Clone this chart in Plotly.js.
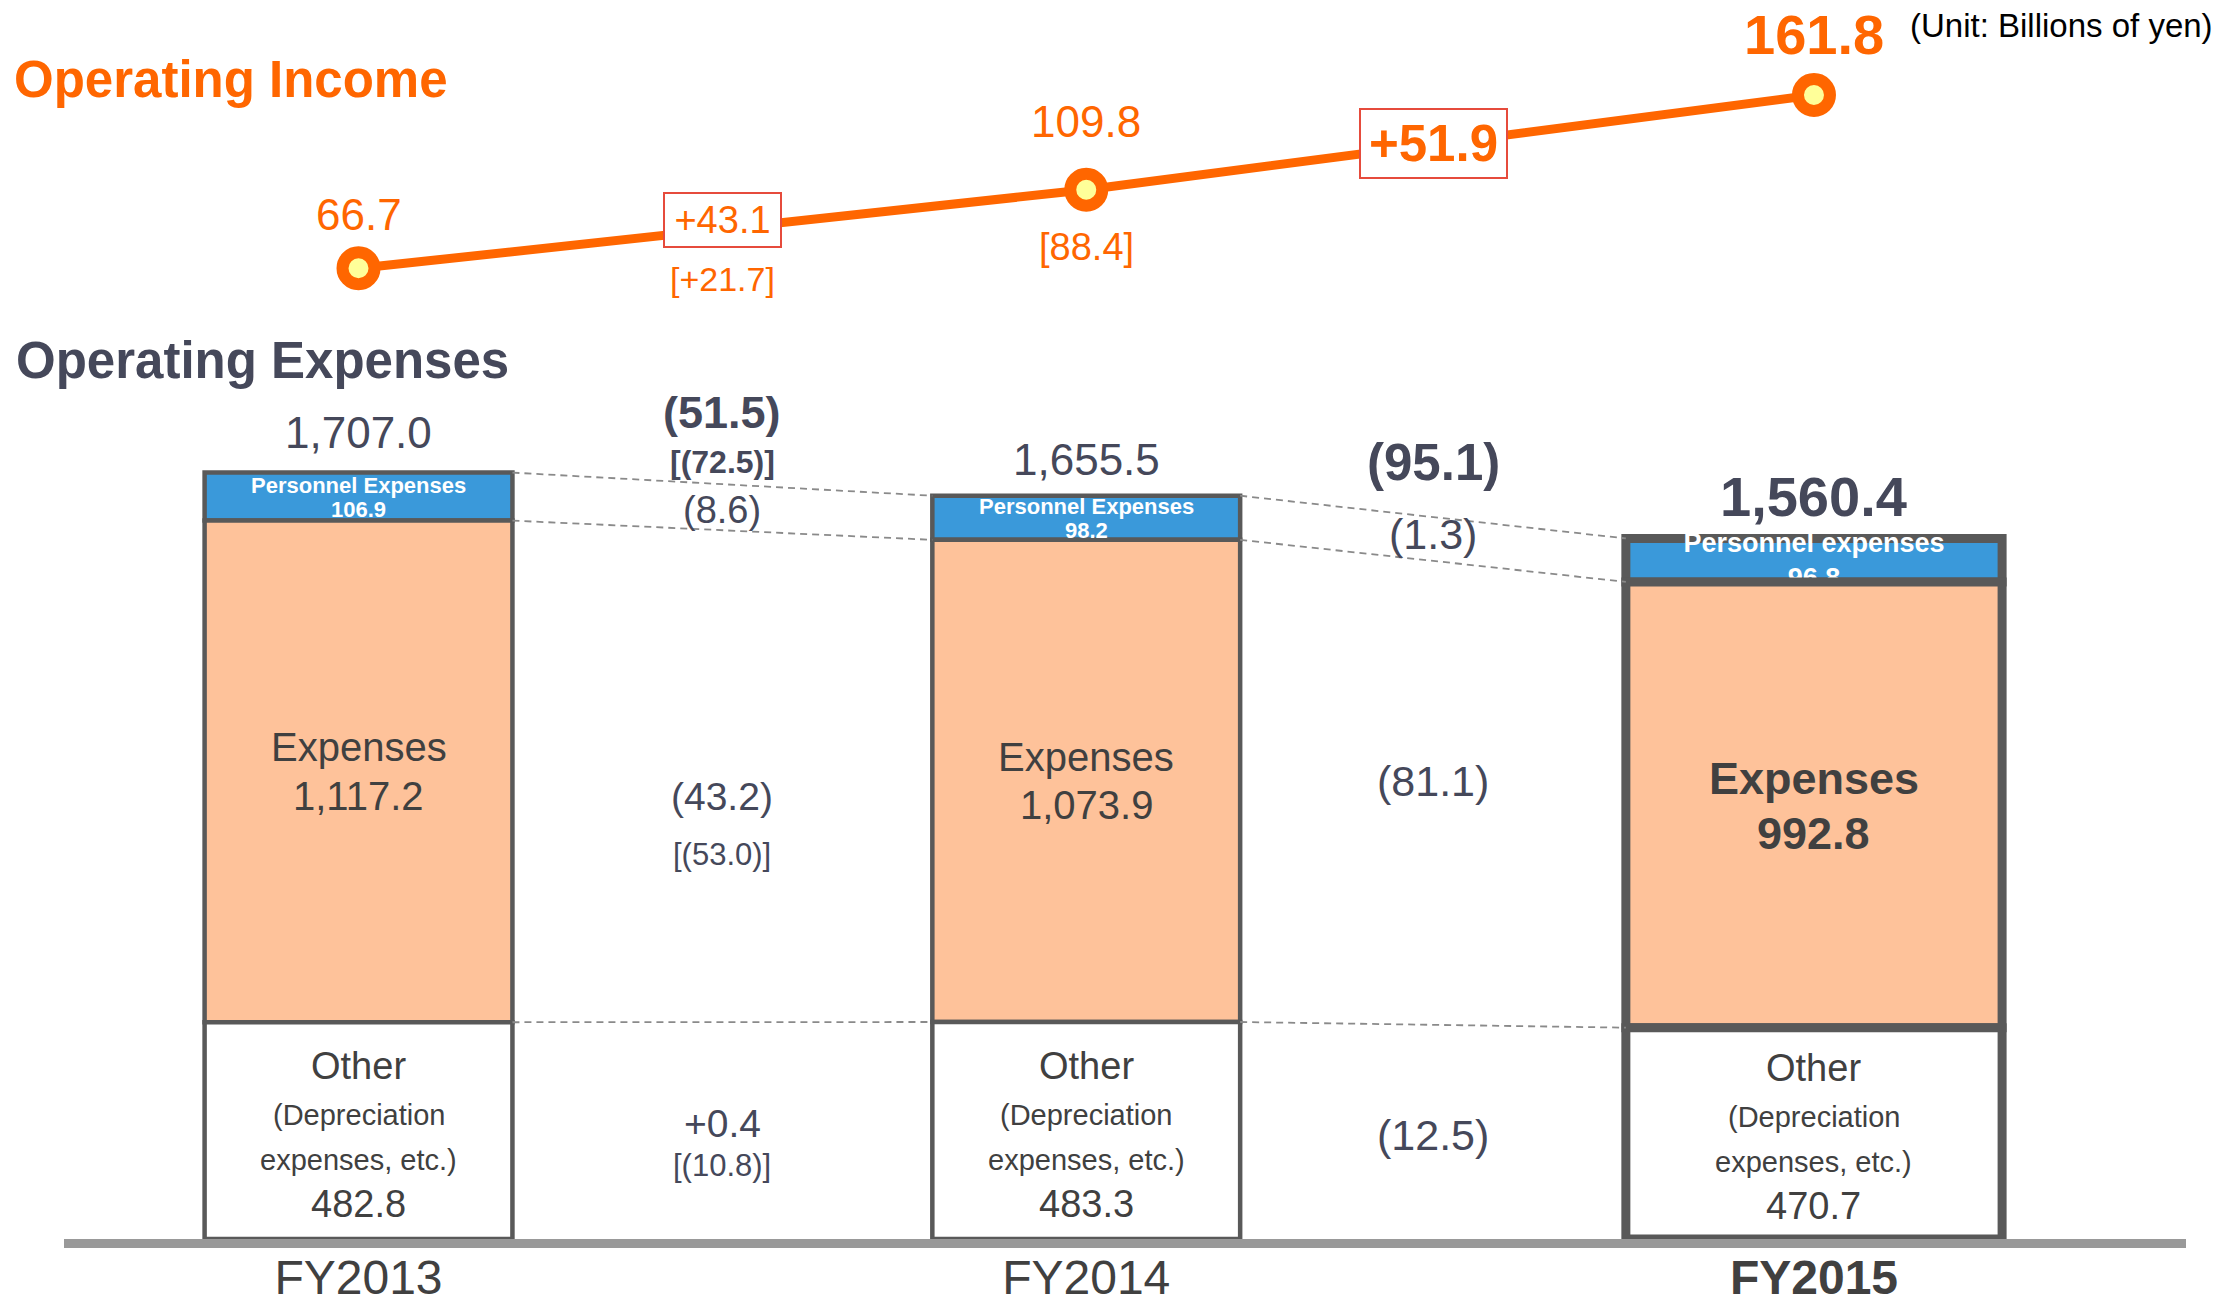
<!DOCTYPE html>
<html><head><meta charset="utf-8">
<script src="https://cdn.plot.ly/plotly-3.0.1.min.js"></script>
<style>html,body{margin:0;padding:0;background:#fff;} #chart{width:2221px;height:1306px;}</style>
</head><body><div id="chart"></div>
<script>
// ---- data ----
const categories = ['FY2013', 'FY2014', 'FY2015'];
const otherValues = [482.8, 483.3, 470.7];
const expenseValues = [1117.2, 1073.9, 992.8];
const personnelValues = [106.9, 98.2, 96.8];
const totalValues = [1707.0, 1655.5, 1560.4];
const incomeValues = [66.7, 109.8, 161.8];
const incomeNotes = ['', '[88.4]', ''];
const incomeChanges = [43.1, 51.9];
const incomeChangeNotes = ['[+21.7]', ''];
const totalChanges = [-51.5, -95.1];
const totalChangeNotes = ['[(72.5)]', ''];
const personnelChanges = [-8.6, -1.3];
const expenseChanges = [-43.2, -81.1];
const expenseChangeNotes = ['[(53.0)]', ''];
const otherChanges = [0.4, -12.5];
const otherChangeNotes = ['[(10.8)]', ''];
const personnelLabels = ['Personnel Expenses', 'Personnel Expenses', 'Personnel expenses'];
const expenseLabel = 'Expenses';
const otherLabels = ['Other', '(Depreciation', 'expenses, etc.)'];

// ---- style ----
const FONT = '"Liberation Sans", Arial, Helvetica, sans-serif';
const ORANGE = '#ff6600', SLATE = '#45485a', GRAY = '#404040', BORDER = '#595959';
const FOCUS = 2;
const barWidths = [0.423, 0.423, 0.517];
const borderWidths = [4.5, 4.5, 9];

// ---- derived ----
const xs = categories.map((c, i) => i);
const expTop = otherValues.map((o, i) => o + expenseValues[i]);
const persTop = expTop.map((e, i) => e + personnelValues[i]);
const gapX = [0, 1].map(i => ((xs[i] + barWidths[i] / 2) + (xs[i + 1] - barWidths[i + 1] / 2)) / 2);
const fmtChange = v => v < 0 ? '(' + Math.abs(v).toFixed(1) + ')' : '+' + v.toFixed(1);
const fmtNum = v => v.toLocaleString('en-US', {minimumFractionDigits: 1, maximumFractionDigits: 1});
const bold = (s, b) => b ? '<b>' + s + '</b>' : s;
const font = (size, color) => ({family: FONT, size: size, color: color});

const lineStyle = {color: BORDER, width: borderWidths};

// FY2015 personnel label is bar text so the expenses bar (drawn later) trims it like the original
const personnelTrace = {
  type: 'bar', x: xs, y: personnelValues, base: expTop, width: barWidths,
  marker: {color: '#3a99da', line: lineStyle},
  text: personnelValues.map((v, i) => i === FOCUS ? '<b>' + personnelLabels[i] + '</b><br><b>' + v.toFixed(1) + '</b>' : ''),
  textposition: 'inside', insidetextanchor: 'middle', constraintext: 'none', textangle: 0,
  insidetextfont: {family: FONT, size: 27, color: '#ffffff'},
  hoverinfo: 'skip', showlegend: false
};
const expenseTrace = {
  type: 'bar', x: xs, y: expenseValues, base: otherValues, width: barWidths,
  marker: {color: '#fec29a', line: lineStyle}, hoverinfo: 'skip', showlegend: false
};
const otherTrace = {
  type: 'bar', x: xs, y: otherValues, base: otherValues.map(() => 0), width: barWidths,
  marker: {color: '#ffffff', line: lineStyle}, hoverinfo: 'skip', showlegend: false
};

const dashX = [], dashY = [];
[persTop, expTop, otherValues].forEach(level => {
  for (let i = 0; i < xs.length - 1; i++) {
    dashX.push(xs[i] + barWidths[i] / 2, xs[i + 1] - barWidths[i + 1] / 2, null);
    dashY.push(level[i], level[i + 1], null);
  }
});
const dashTrace = {
  type: 'scatter', mode: 'lines', x: dashX, y: dashY,
  line: {color: '#8a8a8a', width: 1.8, dash: '7px,5px'}, hoverinfo: 'skip', showlegend: false
};

const incomeTrace = {
  type: 'scatter', mode: 'lines+markers', x: xs, y: incomeValues, yaxis: 'y2',
  line: {color: ORANGE, width: 9},
  marker: {size: 32, color: '#ffff99', line: {color: ORANGE, width: 12}},
  cliponaxis: false, hoverinfo: 'skip', showlegend: false
};

// ---- annotations ----
const annotations = [];
const addText = o => annotations.push(Object.assign({showarrow: false, xanchor: 'center', yanchor: 'middle', xref: 'x', yref: 'y'}, o));

const totalShift = [40, 36, 42];
totalValues.forEach((v, i) => addText({
  x: xs[i], y: persTop[i], text: bold(fmtNum(v), i === FOCUS),
  font: font(i === FOCUS ? 56 : 44, SLATE), yshift: totalShift[i]
}));

personnelValues.forEach((v, i) => {
  if (i === FOCUS) return;
  const yMid = expTop[i] + v / 2;
  addText({x: xs[i], y: yMid, text: '<b>' + personnelLabels[i] + '</b>', font: font(22, '#ffffff'), yshift: 11.5});
  addText({x: xs[i], y: yMid, text: '<b>' + v.toFixed(1) + '</b>', font: font(22, '#ffffff'), yshift: -12.5});
});

expenseValues.forEach((v, i) => {
  const yMid = otherValues[i] + v / 2, f = i === FOCUS;
  addText({x: xs[i], y: yMid, text: bold(expenseLabel, f), font: font(f ? 45 : 40, GRAY), yshift: f ? 26 : 24});
  addText({x: xs[i], y: yMid, text: bold(fmtNum(v), f), font: font(f ? 45 : 40, GRAY), yshift: f ? -29 : -24.5});
});

otherValues.forEach((v, i) => {
  const yMid = v / 2;
  [[otherLabels[0], 38, 65], [otherLabels[1], 29, 16], [otherLabels[2], 29, -29], [fmtNum(v), 38, -73]]
    .forEach(([t, s, sh]) => addText({x: xs[i], y: yMid, text: t, font: font(s, GRAY), yshift: sh}));
});

[0, 1].forEach(g => {
  const x = gapX[g];
  const yTop = (persTop[g] + persTop[g + 1]) / 2;
  const yPers = (expTop[g] + expTop[g + 1]) / 2;
  const yExp = (otherValues[g] + expenseValues[g] / 2 + otherValues[g + 1] + expenseValues[g + 1] / 2) / 2;
  const yOth = (otherValues[g] + otherValues[g + 1]) / 4;
  addText({x: x, y: yTop, text: '<b>' + fmtChange(totalChanges[g]) + '</b>', font: font([45, 51][g], SLATE), yshift: [72, 54.5][g]});
  if (totalChangeNotes[g]) addText({x: x, y: yTop, text: '<b>' + totalChangeNotes[g] + '</b>', font: font(32, SLATE), yshift: 22});
  addText({x: x, y: yPers, text: fmtChange(personnelChanges[g]), font: font([38, 43][g], SLATE), yshift: [20, 27][g]});
  addText({x: x, y: yExp, text: fmtChange(expenseChanges[g]), font: font([39, 43][g], SLATE), yshift: [-20, 12][g]});
  if (expenseChangeNotes[g]) addText({x: x, y: yExp, text: expenseChangeNotes[g], font: font(31, SLATE), yshift: -78});
  addText({x: x, y: yOth, text: fmtChange(otherChanges[g]), font: font([39, 43][g], SLATE), yshift: [7.5, -2.6][g]});
  if (otherChangeNotes[g]) addText({x: x, y: yOth, text: otherChangeNotes[g], font: font(31, SLATE), yshift: -35});
});

const incShift = [53.5, 68, 61];
incomeValues.forEach((v, i) => {
  addText({x: xs[i], y: v, yref: 'y2', text: bold(v.toFixed(1), i === FOCUS), font: font(i === FOCUS ? 56 : 44, ORANGE), yshift: incShift[i]});
  if (incomeNotes[i]) addText({x: xs[i], y: v, yref: 'y2', text: incomeNotes[i], font: font(38, ORANGE), yshift: -57.5});
});
incomeChanges.forEach((v, g) => {
  const yl = incomeValues[g] + (incomeValues[g + 1] - incomeValues[g]) * (gapX[g] - xs[g]);
  const f = g + 1 === FOCUS;
  addText({x: gapX[g], y: yl, yref: 'y2', text: bold(fmtChange(v), f), font: font(f ? 51 : 38, ORANGE),
    yshift: f ? 1 : 9, bgcolor: '#ffffff', bordercolor: '#e64b3c', borderwidth: 2, borderpad: 5, width: f ? 135 : 105});
  if (incomeChangeNotes[g]) addText({x: gapX[g], y: yl, yref: 'y2', text: incomeChangeNotes[g], font: font(34, ORANGE), yshift: -49.6});
});

addText({xref: 'paper', yref: 'paper', x: -0.02356, y: 0.7092, xanchor: 'left', text: '<b>Operating Expenses</b>', font: font(51, SLATE)});
addText({xref: 'paper', yref: 'paper', x: 1.0137, y: 0.9793, xanchor: 'right', text: '(Unit: Billions of yen)', font: font(33, '#000000')});

const layout = {
  width: 2221, height: 1306,
  margin: {l: 64, r: 35, t: 0, b: 67, pad: 0},
  paper_bgcolor: '#ffffff', plot_bgcolor: '#ffffff',
  barmode: 'overlay',
  font: {family: FONT},
  title: {text: '<b>Operating Income</b>', x: 14 / 2221, xanchor: 'left', xref: 'container',
    y: 0.9393, yanchor: 'middle', yref: 'container', font: font(51, ORANGE)},
  xaxis: {type: 'linear', range: [-0.4047, 2.5112], tickvals: xs,
    ticktext: categories.map((c, i) => bold(c, i === FOCUS)),
    tickfont: font(48, GRAY), showline: true, linecolor: '#999999', linewidth: 9,
    showgrid: false, zeroline: false, ticks: '', ticklabelstandoff: -12, automargin: false, fixedrange: true},
  yaxis: {range: [0, 2759.5], visible: false, fixedrange: true},
  yaxis2: {overlaying: 'y', range: [-465.98, 213.93], visible: false, fixedrange: true},
  annotations: annotations,
  showlegend: false
};

Plotly.newPlot('chart', [personnelTrace, expenseTrace, otherTrace, dashTrace, incomeTrace], layout, {displayModeBar: false, staticPlot: true});
</script>
</body></html>
